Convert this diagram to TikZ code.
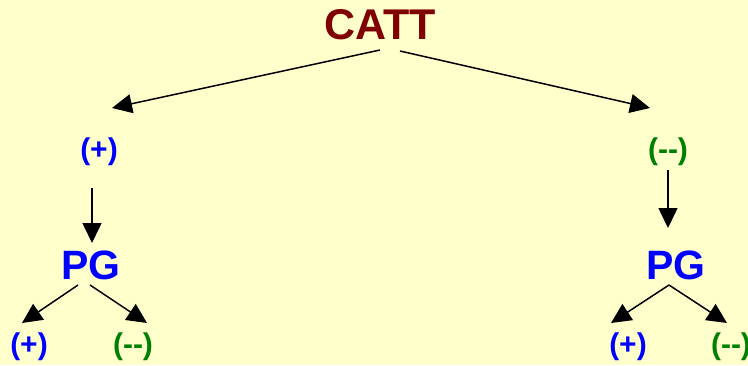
\documentclass[tikz,border=0pt]{standalone}
\usepackage{fontspec}
\setmainfont{Liberation Sans}
\usetikzlibrary{arrows.meta,calc}
\definecolor{bg}{HTML}{FFFFCC}
\definecolor{cattred}{HTML}{800000}
\definecolor{pblue}{HTML}{0000FF}
\definecolor{mgreen}{HTML}{008000}
\begin{document}
\begin{tikzpicture}[x=1pt,y=-1pt,
  lbl/.style={inner sep=0pt,font=\fontsize{30}{30}\selectfont\bfseries},
  plus/.style={lbl,text=pblue},
  minus/.style={lbl,text=mgreen},
  pg/.style={inner sep=0pt,text=pblue,font=\fontsize{41}{41}\selectfont\bfseries},
  arr/.style={line width=1.5pt,-{Triangle[length=20pt,width=19pt]}}]
\fill[bg] (0,0) rectangle (748,365);
\clip (0,0) rectangle (748,365);
\useasboundingbox (0,0) rectangle (748,365);
\node[inner sep=0pt,text=cattred,font=\fontsize{43}{43}\selectfont\bfseries] (catt) at (380,25) {CATT};
\node[plus] (lp) at (99,152) {(+)};
\node[minus] (rm) at (668,152) {({-}{-})};
\node[pg] (lpg) at (91,265) {PG};
\node[pg] (rpg) at (676,265) {PG};
\node[plus] (b1) at (29,347) {(+)};
\node[minus] (b2) at (133,347) {({-}{-})};
\node[plus] (b3) at (628,347) {(+)};
\node[minus] (b4) at (731,347) {({-}{-})};
\draw[arr] ($(catt)+(0,25)$) -- ($(lp)+(13,-44)$);
\draw[arr] ($(catt)+(20,26)$) -- ($(rm)+(-18,-44)$);
\draw[arr] ($(lp)+(-7,36)$) -- ($(lpg)+(1,-22)$);
\draw[arr] ($(rm)+(0,18)$) -- ($(rpg)+(-8,-37)$);
\draw[arr] ($(lpg)+(-13,20)$) -- ($(b1)+(-7,-24)$);
\draw[arr] ($(lpg)+(-1,20)$) -- ($(b2)+(14,-24)$);
\draw[arr] ($(rpg)+(-7,20)$) -- ($(b3)+(-17,-24)$);
\draw[arr] ($(rpg)+(-7,20)$) -- ($(b4)+(-4,-24)$);
\end{tikzpicture}
\end{document}
